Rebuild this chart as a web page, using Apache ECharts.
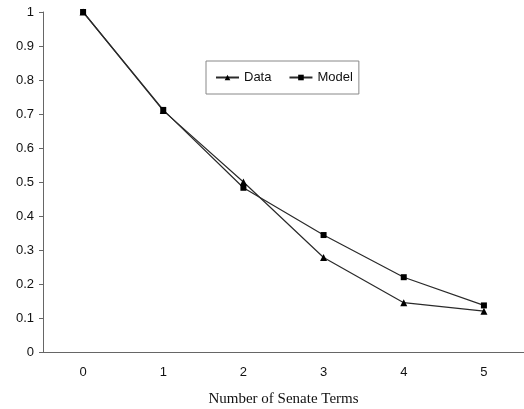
<!DOCTYPE html>
<html>
<head>
<meta charset="utf-8">
<script src="https://cdn.jsdelivr.net/npm/echarts@6/dist/echarts.min.js"></script>
<style>
html,body{margin:0;padding:0;background:#fff;}
#main{width:524px;height:409px;}
</style>
</head>
<body>
<div id="main"></div>
<script>
// categories on the x axis
var terms = ["0", "1", "2", "3", "4", "5"];
// observed share (triangles)
var dataVals = [1, 0.71, 0.5, 0.278, 0.145, 0.12];
// model share (squares)
var modelVals = [1, 0.712, 0.483, 0.344, 0.22, 0.137];

var myChart = echarts.init(document.getElementById("main"));

var option = {
    animation: false,
    backgroundColor: "#fff",
    grid: {
        left: 43,
        right: 0,
        top: 12,
        bottom: 57,
        outerBoundsMode: "none",
        containLabel: false
    },
    legend: {
        orient: "horizontal",
        left: 206,
        top: 61,
        padding: [10, 6, 10, 9],
        borderColor: "#888",
        borderWidth: 1,
        backgroundColor: "#fff",
        itemWidth: 23,
        itemHeight: 7,
        itemGap: 17,
        textStyle: {
            fontFamily: "Liberation Sans",
            fontSize: 13,
            color: "#111"
        },
        data: ["Data", "Model"]
    },
    xAxis: {
        type: "category",
        data: terms,
        boundaryGap: true,
        name: "Number of Senate Terms",
        nameLocation: "middle",
        nameGap: 40,
        nameTextStyle: {
            fontFamily: "Liberation Serif",
            fontSize: 15,
            color: "#111"
        },
        axisLine: { lineStyle: { color: "#666", width: 1 } },
        axisTick: { show: false },
        axisLabel: {
            margin: 14,
            fontFamily: "Liberation Sans",
            fontSize: 13,
            color: "#111"
        }
    },
    yAxis: {
        type: "value",
        min: 0,
        max: 1,
        interval: 0.1,
        axisLine: { show: true, lineStyle: { color: "#666", width: 1 } },
        axisTick: { show: true, length: 4, lineStyle: { color: "#666" } },
        splitLine: { show: false },
        axisLabel: {
            margin: 9,
            fontFamily: "Liberation Sans",
            fontSize: 13,
            color: "#111"
        }
    },
    series: [
        {
            name: "Data",
            type: "line",
            data: dataVals,
            symbol: "triangle",
            symbolSize: 7,
            lineStyle: { color: "#2a2a2a", width: 1.2 },
            itemStyle: { color: "#000" }
        },
        {
            name: "Model",
            type: "line",
            data: modelVals,
            symbol: "rect",
            symbolSize: 6,
            lineStyle: { color: "#2a2a2a", width: 1.2 },
            itemStyle: { color: "#000" }
        }
    ]
};

myChart.setOption(option);
</script>
</body>
</html>
